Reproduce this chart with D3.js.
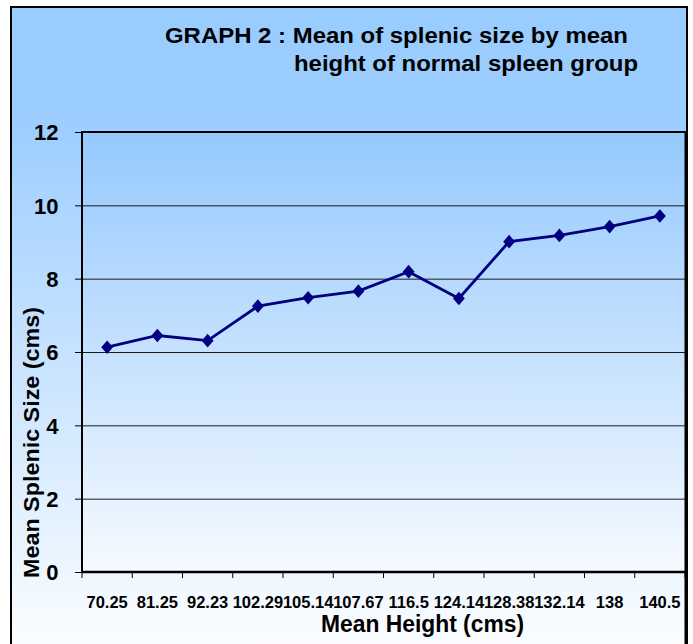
<!DOCTYPE html>
<html>
<head>
<meta charset="utf-8">
<script src="https://d3js.org/d3.v7.min.js"></script>
<style>
  html, body { margin: 0; padding: 0; background: #ffffff; }
  svg { display: block; }
  text { font-family: "Liberation Sans", Arimo, Arial, sans-serif; font-weight: bold; fill: #000; }
</style>
</head>
<body>
<script>
// ---- data ----
const heights = ["70.25","81.25","92.23","102.29","105.14","107.67","116.5","124.14","128.38","132.14","138","140.5"];
const splenicSize = [6.13, 6.45, 6.31, 7.25, 7.48, 7.66, 8.19, 7.46, 9.01, 9.18, 9.42, 9.71];
const yTicks = [0, 2, 4, 6, 8, 10, 12];
const titleLines = ["GRAPH 2 : Mean of splenic size by mean", "height of normal spleen group"];
const xTitle = "Mean Height (cms)";
const yTitle = "Mean Splenic Size (cms)";

const W = 693, H = 644;
const plot = { left: 82, right: 685, top: 132, bottom: 572 };

const svg = d3.select("body").append("svg").attr("width", W).attr("height", H);
const defs = svg.append("defs");

const outerGrad = defs.append("linearGradient").attr("id", "outerGrad")
  .attr("x1", 0).attr("y1", 0).attr("x2", 0).attr("y2", 1);
outerGrad.append("stop").attr("offset", "0%").attr("stop-color", "#99CCFF");
outerGrad.append("stop").attr("offset", "18%").attr("stop-color", "#9DCEFF");
outerGrad.append("stop").attr("offset", "100%").attr("stop-color", "#FFFFFF");

const plotGrad = defs.append("linearGradient").attr("id", "plotGrad")
  .attr("x1", 0).attr("y1", 0).attr("x2", 0).attr("y2", 1);
plotGrad.append("stop").attr("offset", "0%").attr("stop-color", "#95C9FE");
plotGrad.append("stop").attr("offset", "100%").attr("stop-color", "#F6FAFF");

// outer chart area
svg.append("rect").attr("x", 11).attr("y", 7).attr("width", 676).attr("height", 660)
  .attr("fill", "url(#outerGrad)").attr("stroke", "#000").attr("stroke-width", 2);

// scales
const x = d3.scaleBand().domain(heights).range([plot.left, plot.right]);
const y = d3.scaleLinear().domain([0, 12]).range([plot.bottom, plot.top]);

// plot background
svg.append("rect").attr("x", plot.left).attr("y", plot.top)
  .attr("width", plot.right - plot.left).attr("height", plot.bottom - plot.top)
  .attr("fill", "url(#plotGrad)");

// gridlines
svg.append("g").attr("transform", `translate(${plot.left},0)`)
  .call(d3.axisLeft(y).tickValues(yTicks.filter(d => d > 0 && d < 12)).tickSize(-(plot.right - plot.left)).tickFormat(""))
  .call(g => g.select(".domain").remove())
  .call(g => g.selectAll("line").attr("stroke", "#1a1a1a").attr("stroke-width", 1));

// y axis ticks + labels
svg.append("g").attr("transform", `translate(${plot.left},0)`)
  .call(d3.axisLeft(y).tickValues(yTicks).tickSize(7).tickPadding(0).tickFormat(d3.format("d")))
  .call(g => g.select(".domain").remove())
  .call(g => g.selectAll("line").attr("stroke", "#000").attr("stroke-width", 1))
  .call(g => g.selectAll("text").attr("x", 58.5 - plot.left).attr("dy", "0.36em")
    .style("font-size", "22px").attr("fill", "#000"));

// x axis labels
svg.append("g").attr("transform", `translate(0,${plot.bottom})`)
  .call(d3.axisBottom(x).tickSize(0).tickPadding(0))
  .call(g => g.select(".domain").remove())
  .call(g => g.selectAll("text").attr("y", 36).attr("dy", 0)
    .style("font-size", "16.5px").attr("fill", "#000"));

// x boundary ticks
const bounds = heights.map(h => x(h)).concat([x.range()[1]]);
svg.append("g").selectAll("line").data(bounds).join("line")
  .attr("x1", d => d).attr("x2", d => d)
  .attr("y1", plot.bottom).attr("y2", plot.bottom + 6)
  .attr("stroke", "#000").attr("stroke-width", 1);

// plot border
svg.append("line").attr("x1", plot.left).attr("x2", plot.right).attr("y1", plot.top).attr("y2", plot.top)
  .attr("stroke", "#000").attr("stroke-width", 2);
svg.append("line").attr("x1", plot.left).attr("x2", plot.left).attr("y1", plot.top - 1).attr("y2", plot.bottom + 1)
  .attr("stroke", "#000").attr("stroke-width", 2);
svg.append("line").attr("x1", plot.left - 1).attr("x2", plot.right + 2).attr("y1", plot.bottom).attr("y2", plot.bottom)
  .attr("stroke", "#000").attr("stroke-width", 2.5);
svg.append("line").attr("x1", plot.right + 1).attr("x2", plot.right + 1).attr("y1", plot.top - 1).attr("y2", H)
  .attr("stroke", "#000").attr("stroke-width", 3);

// line
const pts = heights.map((h, i) => [x(h) + x.bandwidth() / 2, y(splenicSize[i])]);
svg.append("path").datum(pts)
  .attr("d", d3.line())
  .attr("fill", "none").attr("stroke", "#000080").attr("stroke-width", 2.8);

// diamond markers
const diamond = {
  draw(ctx, size) {
    const h = Math.sqrt(size) * 0.6, w = Math.sqrt(size) * 0.52;
    ctx.moveTo(0, -h); ctx.lineTo(w, 0); ctx.lineTo(0, h); ctx.lineTo(-w, 0); ctx.closePath();
  }
};
svg.append("g").selectAll("path").data(pts).join("path")
  .attr("transform", d => `translate(${d[0]},${d[1]})`)
  .attr("d", d3.symbol().type(diamond).size(130))
  .attr("fill", "#000080");

// titles
svg.append("text").attr("x", 165).attr("y", 42.5)
  .attr("textLength", 463).attr("lengthAdjust", "spacingAndGlyphs")
  .style("font-size", "22px").text(titleLines[0]);
svg.append("text").attr("x", 294).attr("y", 70.5)
  .attr("textLength", 344).attr("lengthAdjust", "spacingAndGlyphs")
  .style("font-size", "22px").text(titleLines[1]);

svg.append("text").attr("x", 321).attr("y", 632)
  .attr("textLength", 203).attr("lengthAdjust", "spacingAndGlyphs")
  .style("font-size", "23px").text(xTitle);

svg.append("text")
  .attr("transform", "translate(38.5,578) rotate(-90)")
  .attr("x", 0).attr("y", 0)
  .attr("textLength", 271).attr("lengthAdjust", "spacingAndGlyphs")
  .style("font-size", "21.5px").text(yTitle);
</script>
</body>
</html>
